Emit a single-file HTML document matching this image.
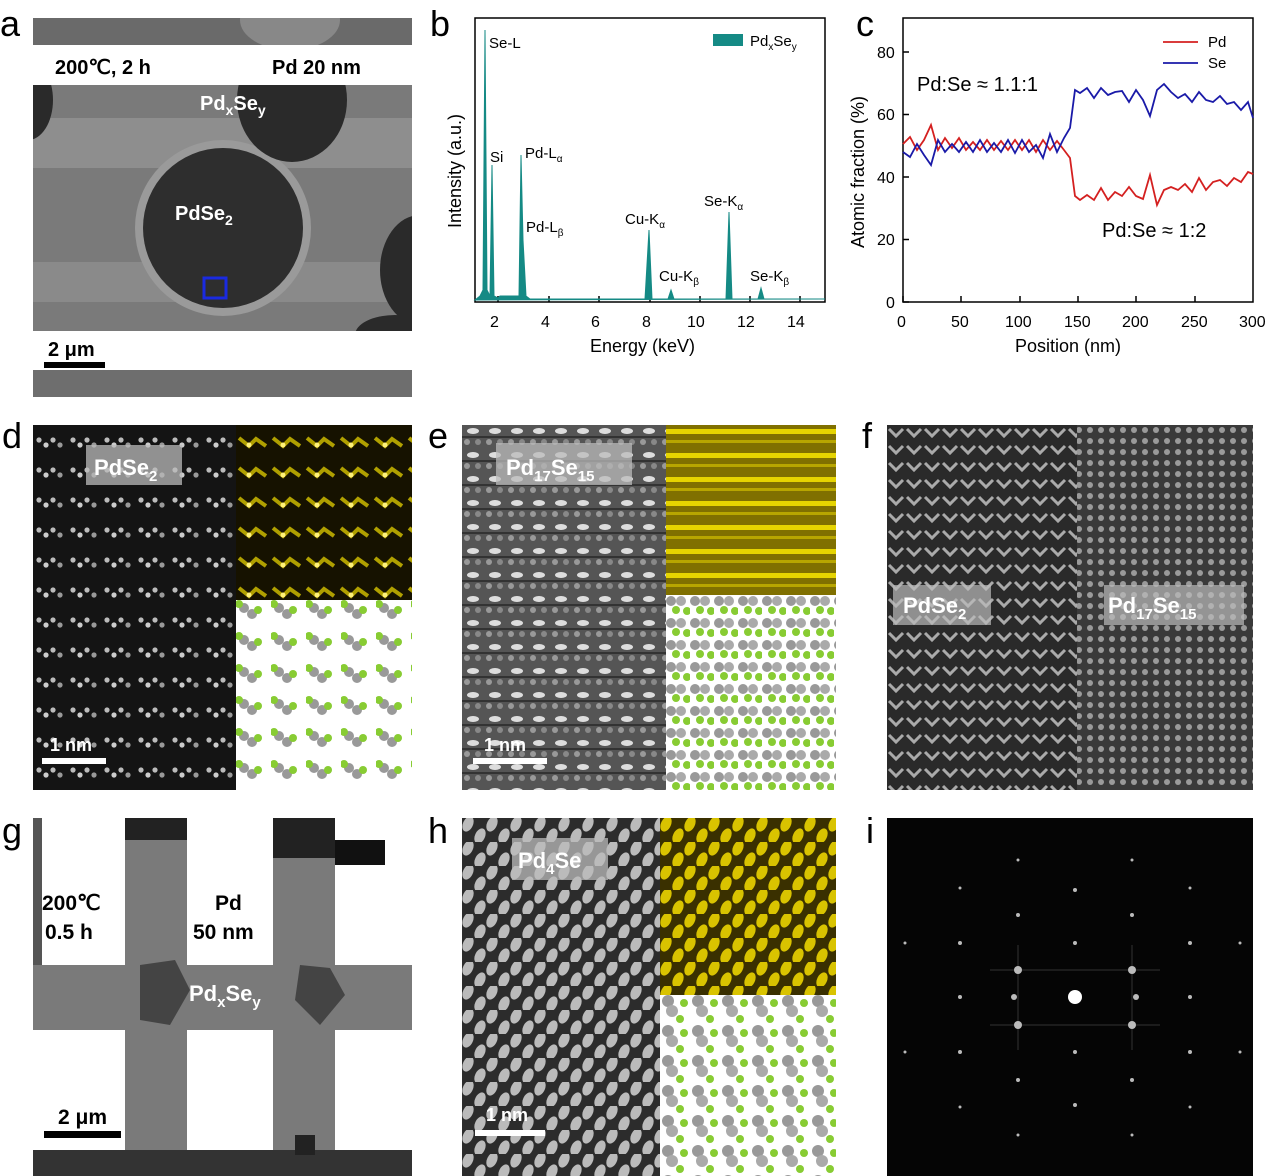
<!DOCTYPE html>
<html><head><meta charset="utf-8"><style>
body{margin:0;background:#fff}
svg{display:block;font-family:"Liberation Sans",Arial,sans-serif}
</style></head><body>
<svg width="1268" height="1176" viewBox="0 0 1268 1176" xmlns="http://www.w3.org/2000/svg">
<defs>
<clipPath id="ca"><rect x="33" y="85" width="379" height="246"/></clipPath>
<clipPath id="ca2"><rect x="33" y="18" width="379" height="27"/></clipPath>
<pattern id="pd" x="33" y="430" width="34" height="30" patternUnits="userSpaceOnUse">
<rect width="34" height="30" fill="#141414"/>
<circle cx="6" cy="10" r="2.6" fill="#bbb"/><circle cx="13" cy="15" r="2.6" fill="#ccc"/><circle cx="20" cy="10" r="2.6" fill="#bbb"/><circle cx="27" cy="15" r="2.6" fill="#999"/>
</pattern>
<pattern id="pdy" x="236" y="430" width="34" height="30" patternUnits="userSpaceOnUse">
<rect width="34" height="30" fill="#161200"/>
<path d="M3 8 L13 16 L20 9 L30 16" stroke="#b0a000" stroke-width="4" fill="none"/>
<circle cx="13" cy="15" r="2.5" fill="#fff27a"/>
</pattern>
<pattern id="pe" x="462" y="425" width="22" height="24" patternUnits="userSpaceOnUse">
<rect width="22" height="24" fill="#555"/>
<ellipse cx="11" cy="6" rx="6" ry="3" fill="#ddd"/>
<circle cx="5" cy="17" r="3" fill="#999"/><circle cx="16" cy="17" r="3" fill="#888"/>
<rect y="11" width="22" height="2" fill="#333"/>
</pattern>
<pattern id="pey" x="666" y="425" width="22" height="24" patternUnits="userSpaceOnUse">
<rect width="22" height="24" fill="#807000"/>
<rect y="4" width="22" height="5" fill="#e6d400"/>
<rect y="15" width="22" height="3" fill="#b8a600"/>
</pattern>
<pattern id="pf1" x="887" y="425" width="18" height="17" patternUnits="userSpaceOnUse">
<rect width="18" height="17" fill="#2a2a2a"/>
<path d="M2 4 L9 11 L16 4" stroke="#aaa" stroke-width="3" fill="none"/>
</pattern>
<pattern id="pf2" x="887" y="425" width="11" height="11" patternUnits="userSpaceOnUse">
<rect width="11" height="11" fill="#3a3a3a"/>
<circle cx="5" cy="5" r="3" fill="#9a9a9a"/>
</pattern>
<pattern id="ph" x="462" y="818" width="24" height="24" patternUnits="userSpaceOnUse">
<rect width="24" height="24" fill="#2c2c2c"/>
<ellipse cx="6" cy="6" rx="5" ry="8" fill="#bbb" transform="rotate(25 6 6)"/>
<ellipse cx="18" cy="18" rx="5" ry="8" fill="#bbb" transform="rotate(25 18 18)"/>
</pattern>
<pattern id="phy" x="660" y="818" width="24" height="24" patternUnits="userSpaceOnUse">
<rect width="24" height="24" fill="#3a3000"/>
<ellipse cx="6" cy="6" rx="5" ry="8" fill="#d9c300" transform="rotate(25 6 6)"/>
<ellipse cx="18" cy="18" rx="5" ry="8" fill="#d9c300" transform="rotate(25 18 18)"/>
</pattern>
<pattern id="mod1" x="236" y="600" width="35" height="32" patternUnits="userSpaceOnUse">
<rect width="35" height="32" fill="#fff"/>
<circle cx="8" cy="8" r="5" fill="#999"/><circle cx="16" cy="14" r="5" fill="#999"/><circle cx="3" cy="4" r="4" fill="#8c3"/><circle cx="22" cy="10" r="4" fill="#8c3"/>
</pattern>
<pattern id="mod2" x="666" y="595" width="24" height="22" patternUnits="userSpaceOnUse">
<rect width="24" height="22" fill="#fff"/>
<circle cx="5" cy="6" r="5" fill="#999"/><circle cx="15" cy="6" r="5" fill="#aaa"/><circle cx="10" cy="15" r="4" fill="#8c3"/><circle cx="21" cy="16" r="4" fill="#8c3"/>
</pattern>
<pattern id="mod3" x="660" y="995" width="30" height="30" patternUnits="userSpaceOnUse">
<rect width="30" height="30" fill="#fff"/>
<circle cx="8" cy="6" r="6" fill="#999"/><circle cx="12" cy="16" r="6" fill="#aaa"/><circle cx="20" cy="24" r="4" fill="#8c3"/><circle cx="24" cy="8" r="4" fill="#8c3"/>
</pattern>
</defs>

<!-- panel labels -->
<g font-size="36" fill="#000">
<text x="0" y="36">a</text><text x="430" y="36">b</text><text x="856" y="36">c</text>
<text x="2" y="448">d</text><text x="428" y="448">e</text><text x="862" y="448">f</text>
<text x="2" y="843">g</text><text x="428" y="843">h</text><text x="866" y="843">i</text>
</g>

<!-- panel a -->
<g clip-path="url(#ca2)">
<rect x="33" y="18" width="379" height="27" fill="#6a6a6a"/>
<ellipse cx="290" cy="20" rx="50" ry="30" fill="#888"/>
</g>
<g clip-path="url(#ca)">
<rect x="33" y="85" width="379" height="246" fill="#7a7a7a"/>
<rect x="33" y="118" width="379" height="50" fill="#8e8e8e"/>
<rect x="33" y="262" width="379" height="40" fill="#8a8a8a"/>
<circle cx="223" cy="228" r="88" fill="#9a9a9a"/>
<circle cx="223" cy="228" r="80" fill="#2e2e2e"/>
<ellipse cx="292" cy="100" rx="55" ry="62" fill="#2a2a2a"/>
<ellipse cx="28" cy="100" rx="25" ry="40" fill="#2a2a2a"/>
<ellipse cx="420" cy="270" rx="40" ry="55" fill="#2a2a2a"/>
<ellipse cx="395" cy="335" rx="40" ry="20" fill="#2a2a2a"/>
</g>
<rect x="204" y="278" width="22" height="20" fill="none" stroke="#1a2ae0" stroke-width="3"/>
<rect x="33" y="370" width="379" height="27" fill="#6e6e6e"/>
<g font-weight="bold" font-size="20">
<text x="55" y="74">200℃, 2 h</text><text x="272" y="74">Pd 20 nm</text>
<text x="200" y="110" fill="#fff">Pd<tspan font-size="14" dy="5">x</tspan><tspan dy="-5">Se</tspan><tspan font-size="14" dy="5">y</tspan></text>
<text x="175" y="220" fill="#fff">PdSe<tspan font-size="14" dy="5">2</tspan></text>
<text x="48" y="356">2 μm</text>
</g>
<rect x="44" y="362" width="61" height="6" fill="#000"/>

<!-- panel b -->
<g stroke="#000" stroke-width="1.5" fill="none">
<rect x="475" y="18" width="350" height="284"/>
<path d="M498 302v-6M549 302v-6M599 302v-6M650 302v-6M700 302v-6M750 302v-6M800 302v-6"/>
</g>
<path d="M475 300 L480 296 L483 290 L485 30 L487 290 L490 296 L492 165 L494 296 L498 298 L500 296 L519 296 L521 155 L523 240 L526 296 L530 299 L645 299 L649 230 L652 299 L668 299 L671 290 L674 299 L726 299 L729 212 L732 299 L758 299 L761 288 L764 299 L825 299 Z" fill="#158a85" stroke="#158a85"/>
<g font-size="16" fill="#000">
<text x="490" y="327">2</text><text x="541" y="327">4</text><text x="591" y="327">6</text><text x="642" y="327">8</text><text x="687" y="327">10</text><text x="737" y="327">12</text><text x="787" y="327">14</text>
<text x="590" y="352" font-size="18">Energy (keV)</text>
<text transform="translate(461 228) rotate(-90)" font-size="18">Intensity (a.u.)</text>
<text x="489" y="48" font-size="15">Se-L</text>
<text x="490" y="162" font-size="15">Si</text>
<text x="525" y="158" font-size="15">Pd-L<tspan font-size="10" dy="4">α</tspan></text>
<text x="526" y="232" font-size="15">Pd-L<tspan font-size="10" dy="4">β</tspan></text>
<text x="625" y="224" font-size="15">Cu-K<tspan font-size="10" dy="4">α</tspan></text>
<text x="659" y="281" font-size="15">Cu-K<tspan font-size="10" dy="4">β</tspan></text>
<text x="704" y="206" font-size="15">Se-K<tspan font-size="10" dy="4">α</tspan></text>
<text x="750" y="281" font-size="15">Se-K<tspan font-size="10" dy="4">β</tspan></text>
<text x="750" y="46" font-size="15">Pd<tspan font-size="10" dy="4">x</tspan><tspan dy="-4">Se</tspan><tspan font-size="10" dy="4">y</tspan></text>
</g>
<rect x="713" y="34" width="30" height="12" fill="#158a85"/>

<!-- panel c -->
<g stroke="#000" stroke-width="1.5" fill="none">
<rect x="903" y="18" width="350" height="284"/>
<path d="M903 302v-6M961 302v-6M1020 302v-6M1078 302v-6M1136 302v-6M1195 302v-6M903 302h6M903 239.5h6M903 177h6M903 114.5h6M903 52h6"/>
</g>
<polyline fill="none" stroke="#d42020" stroke-width="1.8" points="903,144 910,137 917,150 924,140 931,125 938,150 945,138 952,148 959,138 966,150 973,142 980,150 987,140 994,150 1001,141 1008,150 1015,140 1022,150 1029,140 1036,152 1043,140 1050,150 1057,141 1064,150 1070,158 1075,196 1080,200 1087,195 1094,200 1101,188 1108,200 1115,192 1122,196 1129,187 1136,196 1143,199 1150,175 1157,205 1164,190 1171,187 1178,190 1185,184 1192,192 1199,178 1206,190 1213,182 1220,180 1227,186 1234,178 1241,182 1248,172 1253,174"/>
<polyline fill="none" stroke="#1a1aa8" stroke-width="1.8" points="903,152 910,157 917,144 924,155 931,165 938,140 945,152 952,144 959,152 966,142 973,152 980,140 987,152 994,143 1001,152 1008,140 1015,153 1022,140 1029,152 1036,145 1043,158 1050,134 1057,152 1064,138 1070,128 1075,90 1080,93 1087,88 1094,98 1101,88 1108,95 1115,92 1122,91 1129,102 1136,90 1143,100 1150,116 1157,90 1164,84 1171,92 1178,98 1185,94 1192,102 1199,92 1206,100 1213,102 1220,96 1227,104 1234,102 1241,110 1248,102 1253,118"/>
<line x1="1163" y1="42" x2="1198" y2="42" stroke="#d42020" stroke-width="1.8"/>
<line x1="1163" y1="63" x2="1198" y2="63" stroke="#1a1aa8" stroke-width="1.8"/>
<g font-size="16" fill="#000">
<text x="1208" y="47" font-size="15">Pd</text><text x="1208" y="68" font-size="15">Se</text>
<text x="897" y="327">0</text><text x="951" y="327">50</text><text x="1005" y="327">100</text><text x="1064" y="327">150</text><text x="1122" y="327">200</text><text x="1181" y="327">250</text><text x="1239" y="327">300</text>
<text x="886" y="308">0</text><text x="877" y="245">20</text><text x="877" y="183">40</text><text x="877" y="120">60</text><text x="877" y="58">80</text>
<text x="1015" y="352" font-size="18">Position (nm)</text>
<text transform="translate(864 248) rotate(-90)" font-size="18">Atomic fraction (%)</text>
<text x="917" y="91" font-size="20">Pd:Se ≈ 1.1:1</text>
<text x="1102" y="237" font-size="20">Pd:Se ≈ 1:2</text>
</g>

<!-- panel d -->
<rect x="33" y="425" width="203" height="365" fill="url(#pd)"/>
<rect x="236" y="425" width="176" height="175" fill="url(#pdy)"/>
<rect x="236" y="600" width="176" height="190" fill="url(#mod1)"/>
<rect x="86" y="445" width="96" height="40" fill="#bbb" opacity="0.75"/>
<text x="94" y="475" font-size="22" font-weight="bold" fill="#fff">PdSe<tspan font-size="15" dy="6">2</tspan></text>
<text x="50" y="751" font-size="18" font-weight="bold" fill="#fff">1 nm</text>
<rect x="42" y="758" width="64" height="6" fill="#fff"/>

<!-- panel e -->
<rect x="462" y="425" width="204" height="365" fill="url(#pe)"/>
<rect x="666" y="425" width="170" height="170" fill="url(#pey)"/>
<rect x="666" y="595" width="170" height="195" fill="url(#mod2)"/>
<rect x="496" y="443" width="136" height="42" fill="#bbb" opacity="0.75"/>
<text x="506" y="475" font-size="22" font-weight="bold" fill="#fff">Pd<tspan font-size="15" dy="6">17</tspan><tspan dy="-6">Se</tspan><tspan font-size="15" dy="6">15</tspan></text>
<text x="484" y="751" font-size="18" font-weight="bold" fill="#fff">1 nm</text>
<rect x="473" y="758" width="74" height="6" fill="#fff"/>

<!-- panel f -->
<rect x="887" y="425" width="366" height="365" fill="url(#pf2)"/>
<rect x="887" y="425" width="190" height="365" fill="url(#pf1)"/>
<rect x="893" y="585" width="98" height="40" fill="#bbb" opacity="0.7"/>
<text x="903" y="613" font-size="22" font-weight="bold" fill="#fff">PdSe<tspan font-size="15" dy="6">2</tspan></text>
<rect x="1104" y="585" width="140" height="40" fill="#bbb" opacity="0.7"/>
<text x="1108" y="613" font-size="22" font-weight="bold" fill="#fff">Pd<tspan font-size="15" dy="6">17</tspan><tspan dy="-6">Se</tspan><tspan font-size="15" dy="6">15</tspan></text>

<!-- panel g -->
<rect x="33" y="818" width="379" height="358" fill="#fff"/>
<rect x="33" y="818" width="9" height="150" fill="#555"/>
<rect x="125" y="818" width="62" height="358" fill="#7a7a7a"/>
<rect x="125" y="818" width="62" height="22" fill="#222"/>
<rect x="273" y="818" width="62" height="358" fill="#7a7a7a"/>
<rect x="273" y="818" width="62" height="40" fill="#222"/>
<rect x="335" y="840" width="50" height="25" fill="#111"/>
<rect x="33" y="965" width="379" height="65" fill="#7a7a7a"/>
<path d="M140 965 L175 960 L190 990 L170 1025 L140 1020 Z" fill="#444"/>
<path d="M300 965 L330 968 L345 995 L320 1025 L295 1000 Z" fill="#444"/>
<rect x="33" y="1150" width="379" height="26" fill="#333"/>
<rect x="295" y="1135" width="20" height="20" fill="#222"/>
<g font-size="21" font-weight="bold" fill="#000">
<text x="42" y="910">200℃</text><text x="45" y="939">0.5 h</text>
<text x="215" y="910">Pd</text><text x="193" y="939">50 nm</text>
<text x="58" y="1124">2 μm</text>
</g>
<text x="189" y="1001" font-size="22" font-weight="bold" fill="#fff">Pd<tspan font-size="15" dy="6">x</tspan><tspan dy="-6">Se</tspan><tspan font-size="15" dy="6">y</tspan></text>
<rect x="44" y="1131" width="77" height="7" fill="#000"/>

<!-- panel h -->
<rect x="462" y="818" width="198" height="358" fill="url(#ph)"/>
<rect x="660" y="818" width="176" height="177" fill="url(#phy)"/>
<rect x="660" y="995" width="176" height="181" fill="url(#mod3)"/>
<rect x="512" y="838" width="96" height="42" fill="#bbb" opacity="0.75"/>
<text x="518" y="868" font-size="22" font-weight="bold" fill="#fff">Pd<tspan font-size="15" dy="6">4</tspan><tspan dy="-6">Se</tspan></text>
<text x="486" y="1121" font-size="18" font-weight="bold" fill="#fff">1 nm</text>
<rect x="475" y="1130" width="70" height="6" fill="#fff"/>

<!-- panel i -->
<rect x="887" y="818" width="366" height="358" fill="#050505"/>
<g stroke="#333" stroke-width="1">
<line x1="1018" y1="945" x2="1018" y2="1050"/><line x1="1132" y1="945" x2="1132" y2="1050"/>
<line x1="990" y1="970" x2="1160" y2="970"/><line x1="990" y1="1025" x2="1160" y2="1025"/>
</g>
<g fill="#bbb">
<circle cx="1075" cy="997" r="7" fill="#fff"/>
<circle cx="1018" cy="970" r="4"/><circle cx="1132" cy="970" r="4"/><circle cx="1018" cy="1025" r="4"/><circle cx="1132" cy="1025" r="4"/>
<circle cx="1014" cy="997" r="3"/><circle cx="1136" cy="997" r="3"/>
<circle cx="960" cy="943" r="2"/><circle cx="960" cy="997" r="2"/><circle cx="960" cy="1052" r="2"/>
<circle cx="1190" cy="943" r="2"/><circle cx="1190" cy="997" r="2"/><circle cx="1190" cy="1052" r="2"/>
<circle cx="1075" cy="943" r="2"/><circle cx="1075" cy="1052" r="2"/><circle cx="1075" cy="890" r="2"/><circle cx="1075" cy="1105" r="2"/>
<circle cx="1018" cy="915" r="2"/><circle cx="1132" cy="915" r="2"/><circle cx="1018" cy="1080" r="2"/><circle cx="1132" cy="1080" r="2"/>
<circle cx="960" cy="888" r="1.5"/><circle cx="1190" cy="888" r="1.5"/><circle cx="960" cy="1107" r="1.5"/><circle cx="1190" cy="1107" r="1.5"/>
<circle cx="1018" cy="860" r="1.5"/><circle cx="1132" cy="860" r="1.5"/><circle cx="1018" cy="1135" r="1.5"/><circle cx="1132" cy="1135" r="1.5"/>
<circle cx="1240" cy="943" r="1.5"/><circle cx="1240" cy="1052" r="1.5"/><circle cx="905" cy="943" r="1.5"/><circle cx="905" cy="1052" r="1.5"/>
</g>
</svg>
</body></html>
